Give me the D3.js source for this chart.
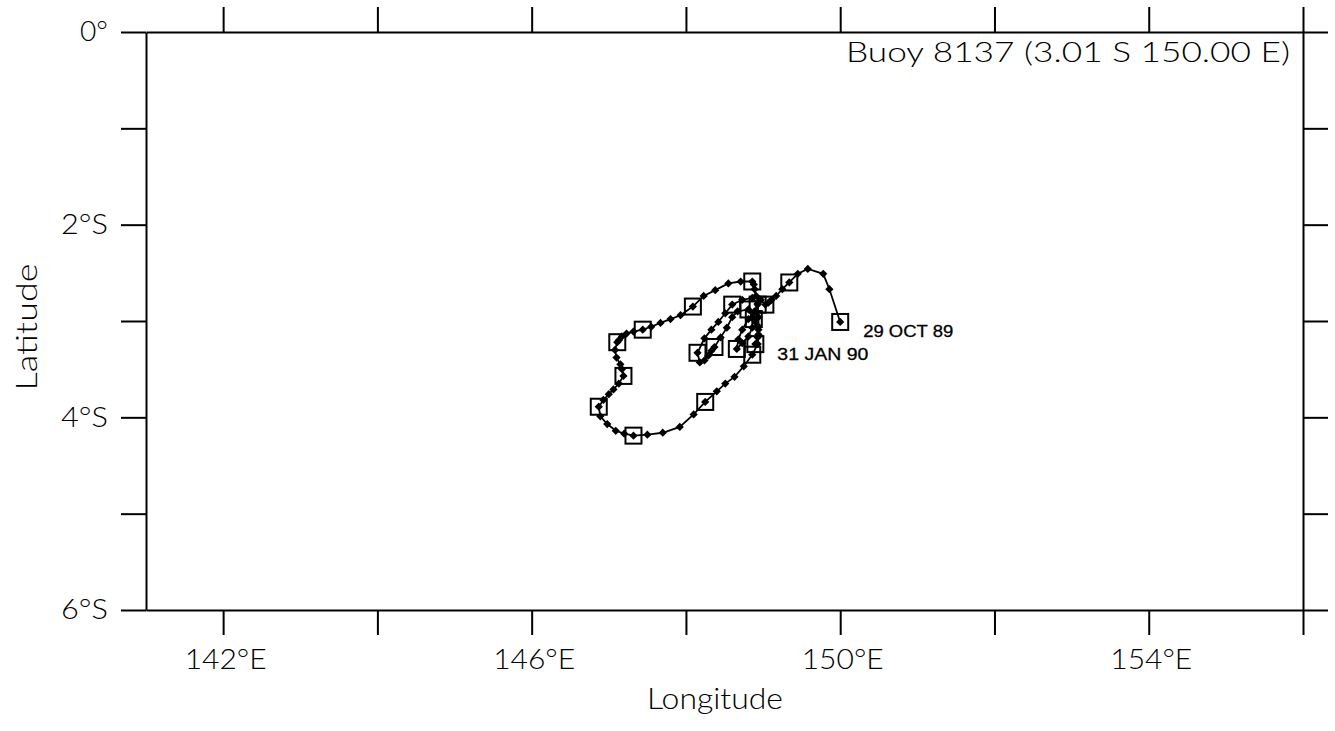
<!DOCTYPE html>
<html>
<head>
<meta charset="utf-8">
<script src="https://cdn.jsdelivr.net/npm/d3@7"></script>
<style>
  html, body { margin: 0; padding: 0; background: #fff; }
  svg { display: block; }
  text { fill: #000; }
  .thin { font-family: Lato, "Open Sans", "Liberation Sans", Arial, sans-serif; font-weight: 300; }
  .date { font-family: "Liberation Sans", Arial, Helvetica, sans-serif; }
</style>
</head>
<body>
<svg id="chart" width="1335" height="731"></svg>
<script>
// ---- data ----
const lonTicks = [142, 144, 146, 148, 150, 152, 154, 156];
const lonLabels = {142: "142°E", 146: "146°E", 150: "150°E", 154: "154°E"};
const latTicks = [0, -1, -2, -3, -4, -5, -6];
const latLabels = {"0": "0°", "-2": "2°S", "-4": "4°S", "-6": "6°S"};

// daily positions of buoy 8137, 29 Oct 89 .. 31 Jan 90
const trackLon = [
  150.00, 149.86, 149.78, 149.58, 149.45, 149.34, 149.25, 149.17, 149.11, 149.07,
  149.03, 148.97, 148.91, 148.89, 148.88, 148.86, 148.71, 148.55, 148.38, 148.23,
  148.09, 147.93, 147.80, 147.67, 147.55, 147.44, 147.32, 147.23, 147.17, 147.13,
  147.11, 147.08, 147.10, 147.15, 147.17, 147.19, 147.13, 147.06, 147.00, 146.93,
  146.87, 146.89, 146.98, 147.09, 147.20, 147.32, 147.50, 147.70, 147.92, 148.10,
  148.25, 148.40, 148.51, 148.63, 148.75, 148.86, 148.93, 148.94, 148.93, 148.90,
  148.88, 148.90, 148.93, 148.86, 148.73, 148.60, 148.51, 148.42, 148.33, 148.24,
  148.15, 148.18, 148.24, 148.29, 148.33, 148.37, 148.45, 148.53, 148.60, 148.67,
  148.81, 148.86, 148.86, 148.81, 148.73, 148.66, 148.68, 148.73, 148.81, 148.89,
  148.93, 148.94, 148.94, 148.93, 148.90
];
const trackLat = [
  -3.01, -2.67, -2.51, -2.46, -2.51, -2.60, -2.67, -2.74, -2.78, -2.81,
  -2.83, -2.78, -2.74, -2.67, -2.62, -2.59, -2.59, -2.61, -2.68, -2.74,
  -2.85, -2.94, -2.98, -3.02, -3.06, -3.09, -3.11, -3.13, -3.16, -3.20,
  -3.22, -3.30, -3.38, -3.45, -3.50, -3.57, -3.65, -3.71, -3.76, -3.82,
  -3.89, -3.99, -4.07, -4.14, -4.17, -4.19, -4.18, -4.16, -4.10, -3.97,
  -3.84, -3.73, -3.65, -3.58, -3.47, -3.35, -3.24, -3.14, -3.05, -3.01,
  -2.98, -2.90, -2.82, -2.76, -2.78, -2.83, -2.92, -3.01, -3.09, -3.18,
  -3.33, -3.43, -3.41, -3.36, -3.31, -3.27, -3.17, -3.07, -2.96, -2.90,
  -2.88, -2.96, -3.07, -3.16, -3.23, -3.29, -3.19, -3.09, -2.98, -2.90,
  -2.83, -2.96, -3.09, -3.17, -3.24
];
// days marked with a square (every 5 days, plus the last day)
const squareDays = [0, 5, 10, 15, 20, 25, 30, 35, 40, 45, 50, 55, 60, 65, 70, 75, 80, 85, 90, 94];

const titleText = "Buoy 8137 (3.01 S 150.00 E)";
const startLabel = "29 OCT 89";
const endLabel = "31 JAN 90";
const xTitle = "Longitude";
const yTitle = "Latitude";

// ---- drawing ----
const svg = d3.select("#chart");
const x = d3.scaleLinear().domain([141, 156]).range([146, 1303]);
const y = d3.scaleLinear().domain([0, -6]).range([32, 610]);

const axisStyle = g => {
  g.selectAll("path.domain").attr("stroke", "#000").attr("stroke-width", 2);
  g.selectAll(".tick line").attr("stroke", "#000").attr("stroke-width", 2);
  g.selectAll(".tick text").attr("font-size", 28).attr("class", "thin")
    .attr("font-family", null).attr("fill", "#000");
};

// top
svg.append("g").attr("transform", `translate(0,${y(0)})`)
  .call(d3.axisTop(x).tickValues(lonTicks).tickSize(25).tickSizeOuter(0).tickFormat(""))
  .call(axisStyle);
// bottom
svg.append("g").attr("transform", `translate(0,${y(-6)})`)
  .call(d3.axisBottom(x).tickValues(lonTicks).tickSize(25).tickSizeOuter(0).tickPadding(14)
    .tickFormat(d => lonLabels[d] || ""))
  .call(axisStyle)
  .call(g => g.selectAll(".tick text").attr("dy", "0.71em").attr("dx", 2)
    .attr("textLength", d => lonLabels[d] ? 82 : null).attr("lengthAdjust", "spacingAndGlyphs"));
// left
svg.append("g").attr("transform", `translate(${x(141)},0)`)
  .call(d3.axisLeft(y).tickValues(latTicks).tickSize(25).tickSizeOuter(0).tickPadding(13)
    .tickFormat(d => latLabels[String(d)] || ""))
  .call(axisStyle)
  .call(g => g.selectAll(".tick text")
    .attr("textLength", d => d === 0 ? 28 : (latLabels[String(d)] ? 47 : null))
    .attr("lengthAdjust", "spacingAndGlyphs"));
// right
svg.append("g").attr("transform", `translate(${x(156)},0)`)
  .call(d3.axisRight(y).tickValues(latTicks).tickSize(25).tickSizeOuter(0).tickFormat(""))
  .call(axisStyle);

// axis titles
svg.append("text").attr("class", "thin").attr("x", 715).attr("y", 709).attr("text-anchor", "middle")
  .attr("font-size", 29).attr("textLength", 136).attr("lengthAdjust", "spacingAndGlyphs")
  .text(xTitle);
svg.append("text").attr("class", "thin").attr("transform", "translate(37,327) rotate(-90)")
  .attr("text-anchor", "middle")
  .attr("font-size", 29).attr("textLength", 127).attr("lengthAdjust", "spacingAndGlyphs")
  .text(yTitle);

// title
svg.append("text").attr("class", "thin").attr("x", 1290).attr("y", 62).attr("text-anchor", "end")
  .attr("font-size", 27).attr("textLength", 444).attr("lengthAdjust", "spacingAndGlyphs")
  .text(titleText);

// track
const pts = trackLon.map((lo, i) => ({lon: lo, lat: trackLat[i], day: i}));
const line = d3.line().x(d => x(d.lon)).y(d => y(d.lat));
svg.append("path").datum(pts).attr("d", line)
  .attr("fill", "none").attr("stroke", "#000").attr("stroke-width", 1.8);

svg.append("g").selectAll("path").data(pts).join("path")
  .attr("transform", d => `translate(${x(d.lon)},${y(d.lat)}) rotate(45)`)
  .attr("d", d3.symbol(d3.symbolSquare, 34))
  .attr("fill", "#000");

const sq = 16;
svg.append("g").selectAll("rect").data(pts.filter(d => squareDays.includes(d.day))).join("rect")
  .attr("x", d => x(d.lon) - sq / 2).attr("y", d => y(d.lat) - sq / 2)
  .attr("width", sq).attr("height", sq)
  .attr("fill", "none").attr("stroke", "#000").attr("stroke-width", 2);

// date labels
const first = pts[0], last = pts[pts.length - 1];
svg.append("text").attr("class", "date").attr("x", x(first.lon) + 23).attr("y", y(first.lat) + 15)
  .attr("font-size", 17).attr("stroke", "#000").attr("stroke-width", 0.3)
  .attr("textLength", 90).attr("lengthAdjust", "spacingAndGlyphs")
  .text(startLabel);
svg.append("text").attr("class", "date").attr("x", x(last.lon) + 22).attr("y", y(last.lat) + 16)
  .attr("font-size", 17).attr("stroke", "#000").attr("stroke-width", 0.3)
  .attr("textLength", 91).attr("lengthAdjust", "spacingAndGlyphs")
  .text(endLabel);
</script>
</body>
</html>
